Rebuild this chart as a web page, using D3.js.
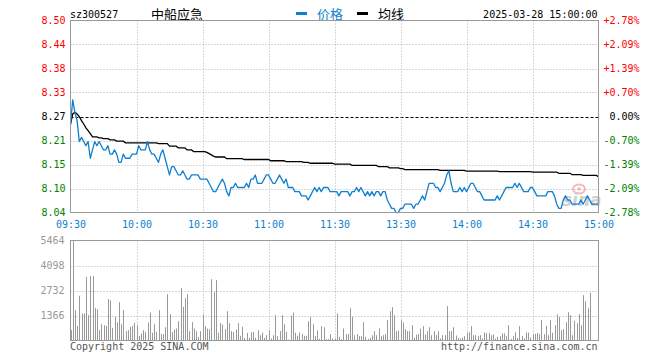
<!DOCTYPE html>
<html><head><meta charset="utf-8">
<script src="https://cdn.jsdelivr.net/npm/d3@7"></script>
<style>body{margin:0;background:#fff}svg{display:block}</style>
</head><body><svg id="c" width="660" height="360"></svg>
<script>
// ---------- data ----------
const symbol = "sz300527";
const stockName = "中船应急";
const dateText = "2025-03-28 15:00:00";
const legendLabels = ["价格", "均线"];
const prevClose = 8.27;
const pctTicks = [2.78, 2.09, 1.39, 0.70, 0, -0.70, -1.39, -2.09, -2.78];
const priceTickLabels = ["8.50","8.44","8.38","8.33","8.27","8.21","8.15","8.10","8.04"];
const pctTickLabels = ["+2.78%","+2.09%","+1.39%","+0.70%","0.00%","-0.70%","-1.39%","-2.09%","-2.78%"];
const timeTickIndex = [0, 30, 60, 90, 120, 150, 180, 210, 240];
const timeLabels = ["09:30","10:00","10:30","11:00","11:30","13:30","14:00","14:30","15:00"];
const volTicks = [1366, 2732, 4098, 5464];
const volMax = 5464;

const price = [
8.25,8.31,8.28,8.26,8.21,8.22,8.21,8.20,8.21,8.17,
8.19,8.21,8.20,8.21,8.20,8.19,8.19,8.20,8.18,8.18,
8.19,8.18,8.16,8.16,8.18,8.17,8.17,8.17,8.18,8.18,
8.18,8.20,8.19,8.19,8.19,8.21,8.19,8.18,8.18,8.17,
8.16,8.18,8.19,8.17,8.15,8.13,8.15,8.15,8.14,8.13,
8.13,8.14,8.13,8.12,8.12,8.13,8.13,8.13,8.13,8.12,
8.12,8.12,8.12,8.11,8.10,8.09,8.09,8.10,8.11,8.12,
8.11,8.09,8.08,8.10,8.10,8.11,8.10,8.10,8.10,8.10,
8.11,8.10,8.12,8.12,8.13,8.11,8.11,8.11,8.12,8.13,
8.13,8.12,8.11,8.11,8.12,8.13,8.12,8.11,8.12,8.10,
8.10,8.10,8.09,8.09,8.09,8.08,8.08,8.08,8.07,8.08,
8.09,8.10,8.09,8.10,8.09,8.10,8.10,8.10,8.09,8.09,
8.09,8.09,8.08,8.09,8.09,8.09,8.09,8.08,8.09,8.09,
8.10,8.09,8.10,8.09,8.08,8.09,8.08,8.09,8.08,8.09,
8.09,8.08,8.09,8.09,8.07,8.06,8.05,8.05,8.04,8.04,
8.05,8.05,8.06,8.06,8.06,8.06,8.05,8.06,8.06,8.07,
8.08,8.07,8.09,8.11,8.11,8.11,8.10,8.10,8.09,8.10,
8.11,8.13,8.14,8.11,8.09,8.09,8.09,8.10,8.09,8.10,
8.09,8.10,8.11,8.11,8.10,8.09,8.09,8.08,8.07,8.07,
8.07,8.07,8.07,8.07,8.08,8.07,8.08,8.09,8.10,8.10,
8.10,8.10,8.11,8.10,8.11,8.10,8.09,8.09,8.09,8.10,
8.10,8.09,8.08,8.08,8.08,8.08,8.08,8.09,8.09,8.09,
8.08,8.06,8.05,8.05,8.07,8.08,8.07,8.07,8.06,8.06,
8.06,8.06,8.07,8.06,8.07,8.08,8.07,8.06,8.06,8.06,8.06
];

const avgPrice = [
8.252,8.276,8.280,8.276,8.270,8.260,8.252,8.243,8.236,8.229,
8.221,8.221,8.221,8.219,8.219,8.217,8.217,8.217,8.214,8.214,
8.214,8.211,8.211,8.211,8.211,8.207,8.207,8.207,8.207,8.207,
8.207,8.207,8.207,8.207,8.207,8.207,8.207,8.207,8.207,8.207,
8.205,8.205,8.205,8.205,8.205,8.199,8.199,8.199,8.199,8.195,
8.195,8.195,8.195,8.190,8.190,8.190,8.186,8.186,8.186,8.186,
8.186,8.186,8.184,8.181,8.178,8.175,8.173,8.173,8.173,8.173,
8.173,8.169,8.169,8.169,8.169,8.169,8.169,8.169,8.169,8.167,
8.167,8.167,8.167,8.167,8.167,8.167,8.167,8.167,8.167,8.167,
8.167,8.164,8.164,8.164,8.164,8.164,8.164,8.164,8.162,8.162,
8.162,8.162,8.162,8.162,8.162,8.162,8.160,8.160,8.160,8.158,
8.158,8.158,8.158,8.158,8.158,8.158,8.158,8.158,8.158,8.158,
8.156,8.156,8.156,8.156,8.156,8.156,8.156,8.156,8.153,8.153,
8.153,8.153,8.153,8.153,8.153,8.153,8.153,8.153,8.153,8.153,
8.150,8.150,8.150,8.150,8.150,8.147,8.147,8.147,8.147,8.147,
8.145,8.145,8.143,8.143,8.143,8.143,8.143,8.143,8.143,8.143,
8.143,8.143,8.143,8.143,8.143,8.143,8.143,8.143,8.141,8.141,
8.141,8.141,8.141,8.141,8.141,8.141,8.141,8.141,8.141,8.141,
8.139,8.139,8.139,8.139,8.139,8.139,8.139,8.139,8.139,8.139,
8.139,8.139,8.139,8.139,8.139,8.138,8.138,8.138,8.138,8.138,
8.138,8.138,8.138,8.138,8.138,8.138,8.138,8.138,8.138,8.138,
8.137,8.137,8.137,8.137,8.137,8.137,8.137,8.137,8.137,8.137,
8.137,8.137,8.134,8.134,8.134,8.134,8.134,8.134,8.131,8.131,
8.131,8.131,8.131,8.129,8.129,8.129,8.129,8.129,8.129,8.129,8.126
];

const volume = [
565,5464,1657,801,2440,1475,1475,3478,1384,3515,
3515,1785,1712,565,892,838,801,2258,2203,692,
1293,983,2094,892,1657,510,565,747,801,965,
801,255,382,565,473,983,1530,419,892,473,
1657,346,346,728,2531,1439,473,601,656,1056,
2859,1839,2313,2531,510,1002,656,510,182,510,
1420,783,656,619,3351,2640,3296,419,947,874,
619,1602,947,510,473,601,947,255,747,146,
419,146,437,473,146,565,291,437,146,291,
565,109,291,1384,237,510,1384,892,473,55,
1348,1530,419,255,437,364,255,255,1056,1275,
892,237,546,91,783,728,73,73,346,109,
109,1475,200,73,656,346,346,1766,1293,291,
346,237,237,1002,200,91,146,291,510,291,
656,237,291,346,1111,1602,1821,1384,510,546,
1111,983,619,510,510,838,146,328,364,656,
783,328,510,728,291,510,291,510,109,291,
291,1876,510,510,728,273,146,109,164,237,
419,455,783,291,291,255,291,109,437,419,
419,291,328,109,200,237,382,382,237,838,
91,237,455,146,783,237,109,437,437,164,
328,364,419,346,1111,346,801,291,1111,419,
838,1439,1293,565,619,1002,1548,1384,291,1074,
947,1439,838,2477,2149,1766,2604,0,0,0,0
];

// ---------- layout ----------
const svg = d3.select("#c");
const X0 = 70.5, X1 = 598.5, PY0 = 20.5, PY1 = 212.5, VY0 = 240.5, VY1 = 340.5;
const MONO = "'DejaVu Sans Mono', monospace";
const CJK = "'Noto Sans CJK SC', sans-serif";
const RED = "#ff0000", GREEN = "#008000", BLUE = "#0f7fd0", GRID = "#b0b0b0", FRAME = "#999";

const x = d3.scaleLinear().domain([0, 240]).range([X0, X1]);
const y = d3.scaleLinear()
  .domain([prevClose * (1 - 0.0278), prevClose * (1 + 0.0278)])
  .range([PY1, PY0]);
const vy = d3.scaleLinear().domain([0, volMax]).range([VY1, VY0]);
const tickPrice = pctTicks.map(p => prevClose * (1 + p / 100));
const colorOf = p => p > 0 ? RED : (p < 0 ? GREEN : "#000");

// ---------- header ----------
svg.append("text").attr("x", 70).attr("y", 17.5).attr("font-family", MONO)
  .attr("font-size", 10).attr("fill", "#000").text(symbol);
svg.append("text").attr("x", 151).attr("y", 18.5).attr("font-family", CJK)
  .attr("font-size", 13).attr("fill", "#000").text(stockName);
svg.append("rect").attr("x", 296).attr("y", 12).attr("width", 11).attr("height", 3).attr("fill", BLUE);
svg.append("text").attr("x", 317).attr("y", 18.5).attr("font-family", CJK)
  .attr("font-size", 13).attr("fill", BLUE).text(legendLabels[0]);
svg.append("rect").attr("x", 357).attr("y", 12).attr("width", 11).attr("height", 3).attr("fill", "#000");
svg.append("text").attr("x", 378).attr("y", 18.5).attr("font-family", CJK)
  .attr("font-size", 13).attr("fill", "#000").text(legendLabels[1]);
svg.append("text").attr("x", 597.5).attr("y", 17.5).attr("text-anchor", "end")
  .attr("font-family", MONO).attr("font-size", 10).attr("fill", "#000").text(dateText);

// ---------- price grid ----------
const grid = svg.append("g");
tickPrice.forEach((tp, i) => {
  if (i === 0 || i === tickPrice.length - 1) return;
  const yy = Math.round(y(tp)) + 0.5;
  const isZero = pctTicks[i] === 0;
  grid.append("line").attr("x1", X0).attr("x2", X1).attr("y1", yy).attr("y2", yy)
    .attr("stroke", isZero ? "#000" : GRID)
    .attr("stroke-dasharray", isZero ? "3,2" : "1,2");
});
timeTickIndex.forEach((t, i) => {
  if (i === 0 || i === timeTickIndex.length - 1) return;
  const xx = Math.round(x(t)) + 0.5;
  grid.append("line").attr("x1", xx).attr("x2", xx).attr("y1", PY0).attr("y2", PY1)
    .attr("stroke", GRID).attr("stroke-dasharray", "1,2");
  grid.append("line").attr("x1", xx).attr("x2", xx).attr("y1", VY0).attr("y2", VY1)
    .attr("stroke", GRID).attr("stroke-dasharray", "1,2");
});
volTicks.slice(0, -1).forEach(v => {
  const yy = Math.round(vy(v)) + 0.5;
  grid.append("line").attr("x1", X0).attr("x2", X1).attr("y1", yy).attr("y2", yy)
    .attr("stroke", GRID).attr("stroke-dasharray", "1,2");
});

// ---------- axes ----------
const leftAxis = svg.append("g").attr("transform", `translate(${X0 - 5},0)`)
  .call(d3.axisLeft(y).tickValues(tickPrice).tickSize(0).tickPadding(0)
    .tickFormat((d, i) => priceTickLabels[i]));
leftAxis.select(".domain").remove();
leftAxis.selectAll("text").attr("font-family", MONO).attr("font-size", 10)
  .attr("dy", "0.3em").attr("fill", (d, i) => colorOf(pctTicks[i]));

const rightAxis = svg.append("g").attr("transform", `translate(639.5,0)`)
  .call(d3.axisLeft(y).tickValues(tickPrice).tickSize(0).tickPadding(0)
    .tickFormat((d, i) => pctTickLabels[i]));
rightAxis.select(".domain").remove();
rightAxis.selectAll("text").attr("font-family", MONO).attr("font-size", 10)
  .attr("dy", "0.3em").attr("fill", (d, i) => colorOf(pctTicks[i]));

const timeAxis = svg.append("g").attr("transform", `translate(0,${PY1})`)
  .call(d3.axisBottom(x).tickValues(timeTickIndex).tickSize(0).tickPadding(0)
    .tickFormat((d, i) => timeLabels[i]));
timeAxis.select(".domain").remove();
timeAxis.selectAll("text").attr("font-family", MONO).attr("font-size", 10)
  .attr("y", 15).attr("dy", 0).attr("fill", BLUE);

const volAxis = svg.append("g").attr("transform", `translate(${X0 - 6},0)`)
  .call(d3.axisLeft(vy).tickValues(volTicks).tickSize(0).tickPadding(0)
    .tickFormat(d3.format("d")));
volAxis.select(".domain").remove();
volAxis.selectAll("text").attr("font-family", MONO).attr("font-size", 10)
  .attr("dy", "0.3em").attr("fill", "#999");

// ---------- watermark ----------
const wm = svg.append("g").attr("opacity", 0.55);
wm.append("ellipse").attr("cx", 579).attr("cy", 189).attr("rx", 6).attr("ry", 4.5)
  .attr("fill", "none").attr("stroke", "#f08080").attr("stroke-width", 2);
wm.append("circle").attr("cx", 579).attr("cy", 189).attr("r", 1.8).attr("fill", "#f08080");
wm.append("text").attr("x", 562).attr("y", 206).attr("font-family", "'DejaVu Sans', sans-serif")
  .attr("font-size", 17).attr("font-style", "italic").attr("font-weight", "bold")
  .attr("fill", "#aaa").text("sina");

// ---------- volume bars ----------
svg.append("g").selectAll("rect").data(volume).join("rect")
  .attr("x", (d, i) => Math.floor(x(i) + 0.5))
  .attr("width", 1)
  .attr("y", d => vy(d))
  .attr("height", d => VY1 - vy(d))
  .attr("fill", "#999");

// ---------- lines ----------
const line = d3.line().x((d, i) => x(i)).y(d => y(d));
svg.append("path").datum(avgPrice).attr("d", line).attr("fill", "none")
  .attr("stroke", "#000").attr("stroke-width", 1.3);
svg.append("path").datum(price).attr("d", line).attr("fill", "none")
  .attr("stroke", BLUE).attr("stroke-width", 1.3).attr("stroke-linejoin", "round");

// ---------- frames ----------
svg.append("rect").attr("x", X0).attr("y", PY0).attr("width", X1 - X0).attr("height", PY1 - PY0)
  .attr("fill", "none").attr("stroke", FRAME);
svg.append("rect").attr("x", X0).attr("y", VY0).attr("width", X1 - X0).attr("height", VY1 - VY0)
  .attr("fill", "none").attr("stroke", FRAME);

// ---------- footer ----------
svg.append("text").attr("x", 70).attr("y", 349.5).attr("font-family", MONO)
  .attr("font-size", 10).attr("fill", "#555").text("Copyright 2025 SINA.COM");
svg.append("text").attr("x", 597.5).attr("y", 349.5).attr("text-anchor", "end")
  .attr("font-family", MONO).attr("font-size", 10).attr("fill", "#555").text("http://finance.sina.com.cn");
</script></body></html>
